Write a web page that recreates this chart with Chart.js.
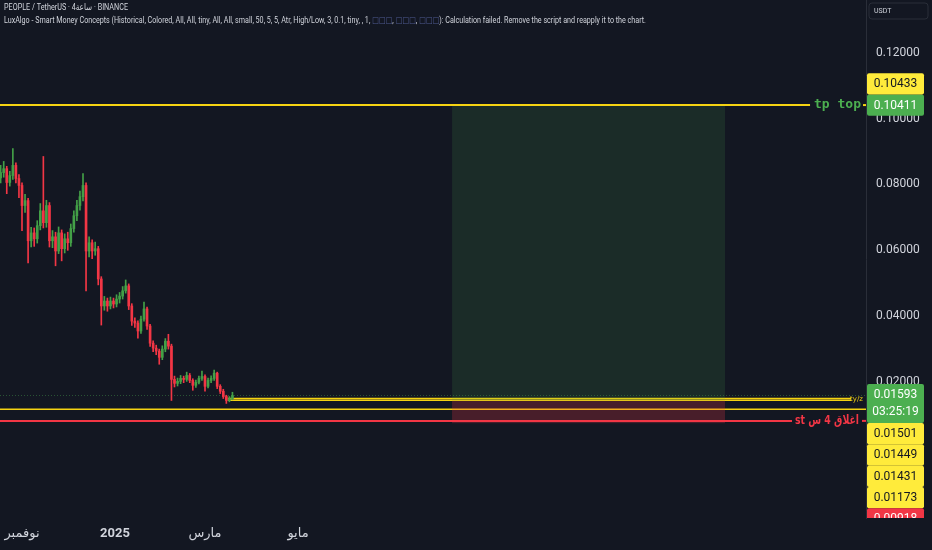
<!DOCTYPE html>
<html>
<head>
<meta charset="utf-8">
<title>PEOPLE / TetherUS</title>
<script src="https://cdn.jsdelivr.net/npm/chart.js@4.4.1/dist/chart.umd.min.js"></script>
<style>
html, body { margin: 0; padding: 0; background: #131722; }
#wrap { width: 932px; height: 550px; }
</style>
</head>
<body>
<div id="wrap"><canvas id="chart" width="932" height="550"></canvas></div>
<script>
// candles (one every 2 days, day 0 = 1 Nov 2024)
const candleOpen = [0.0820,0.0836,0.0848,0.0806,0.0827,0.0858,0.0818,0.0797,0.0736,0.0751,
    0.0629,0.0653,0.0635,0.0675,0.0720,0.0684,0.0736,0.0629,0.0641,0.0598,
    0.0653,0.0605,0.0635,0.0623,0.0666,0.0705,0.0736,0.0763,0.0797,0.0598,
    0.0623,0.0598,0.0605,0.0513,0.0431,0.0446,0.0431,0.0446,0.0437,0.0452,
    0.0461,0.0477,0.0492,0.0431,0.0385,0.0379,0.0355,0.0391,0.0422,0.0370,
    0.0318,0.0303,0.0294,0.0275,0.0300,0.0324,0.0309,0.0208,0.0196,0.0202,
    0.0211,0.0208,0.0220,0.0205,0.0190,0.0199,0.0211,0.0217,0.0187,0.0205,
    0.0211,0.0227,0.0187,0.0172,0.0156,0.0144,0.0150];
const candleHigh = [0.0858,0.0870,0.0855,0.0840,0.0909,0.0866,0.0830,0.0805,0.0770,0.0758,
    0.0670,0.0668,0.0690,0.0742,0.0885,0.0752,0.0745,0.0660,0.0655,0.0671,
    0.0662,0.0650,0.0655,0.0680,0.0720,0.0752,0.0780,0.0833,0.0805,0.0641,
    0.0632,0.0625,0.0612,0.0520,0.0460,0.0455,0.0458,0.0455,0.0465,0.0472,
    0.0490,0.0510,0.0498,0.0438,0.0395,0.0386,0.0400,0.0443,0.0428,0.0375,
    0.0325,0.0312,0.0300,0.0310,0.0332,0.0345,0.0315,0.0218,0.0212,0.0220,
    0.0218,0.0230,0.0226,0.0210,0.0206,0.0218,0.0233,0.0222,0.0212,0.0219,
    0.0236,0.0230,0.0192,0.0178,0.0160,0.0156,0.0169];
const candleLow = [0.0805,0.0822,0.0772,0.0795,0.0815,0.0805,0.0760,0.0660,0.0715,0.0562,
    0.0610,0.0612,0.0622,0.0662,0.0668,0.0670,0.0610,0.0608,0.0553,0.0590,
    0.0568,0.0592,0.0600,0.0612,0.0655,0.0690,0.0722,0.0750,0.0477,0.0580,
    0.0575,0.0585,0.0495,0.0373,0.0418,0.0415,0.0422,0.0425,0.0428,0.0440,
    0.0452,0.0470,0.0420,0.0372,0.0366,0.0333,0.0348,0.0385,0.0360,0.0308,
    0.0292,0.0283,0.0254,0.0268,0.0292,0.0300,0.0144,0.0185,0.0188,0.0195,
    0.0198,0.0202,0.0198,0.0175,0.0184,0.0194,0.0205,0.0172,0.0182,0.0198,
    0.0205,0.0180,0.0165,0.0150,0.0135,0.0140,0.0146];
const candleClose = [0.0836,0.0848,0.0806,0.0827,0.0858,0.0818,0.0797,0.0736,0.0751,0.0629,
    0.0653,0.0635,0.0675,0.0720,0.0684,0.0736,0.0629,0.0641,0.0598,0.0653,
    0.0605,0.0635,0.0623,0.0666,0.0705,0.0736,0.0763,0.0797,0.0598,0.0623,
    0.0598,0.0605,0.0513,0.0431,0.0446,0.0431,0.0446,0.0437,0.0452,0.0461,
    0.0477,0.0492,0.0431,0.0385,0.0379,0.0355,0.0391,0.0422,0.0370,0.0318,
    0.0303,0.0294,0.0275,0.0300,0.0324,0.0309,0.0208,0.0196,0.0202,0.0211,
    0.0208,0.0220,0.0205,0.0190,0.0199,0.0211,0.0217,0.0187,0.0205,0.0211,
    0.0227,0.0187,0.0172,0.0156,0.0144,0.0150,0.0159];
const candleStartDay = -14;
const candleStepDays = 2;

// axes
const monthTickDays = [0, 61, 120, 181];
const monthTickLabels = ['نوفمبر', '2025', 'مارس', 'مايو'];
const priceTicks = [0.02, 0.04, 0.06, 0.08, 0.10, 0.12];

// drawn levels
const tpLevel = 0.10411;
const currentPrice = 0.01593;
const entryLines = [0.01501, 0.01449];
const entryLinesStartDay = 135;
const yellowLevel = 0.01173;
const stopLevel = 0.0082;
const positionDays = [282, 461];
const positionLevels = [0.10411, 0.01431, 0.0075]; // target, entry, stop

// right-hand price labels
const topLabelValues = [0.10433, 0.10411];
const bottomLabelValues = [0.01593, 0.01501, 0.01449, 0.01431, 0.01173, 0.00918];
const countdownText = '03:25:19';

const GREEN = '#4caf50';
const RED = '#f23645';
const YELLOW = '#f5d312';
const TEXT = '#d1d4dc';
const FONT = 'Roboto, "DejaVu Sans", sans-serif';

const candleDays = candleClose.map((c, i) => candleStartDay + i * candleStepDays);
const wickData = candleDays.map((d, i) => ({ x: d, y: [candleLow[i], candleHigh[i]] }));
const bodyData = candleDays.map((d, i) => ({
    x: d,
    y: [Math.min(candleOpen[i], candleClose[i]), Math.max(candleOpen[i], candleClose[i])]
}));
function candleColor(i) {
    return candleClose[i] >= candleOpen[i] ? '#43a047' : RED;
}

function hLine(ctx, y, x1, x2, color, width, dash) {
    ctx.beginPath();
    ctx.setLineDash(dash || []);
    ctx.strokeStyle = color;
    ctx.lineWidth = width;
    ctx.moveTo(x1, y);
    ctx.lineTo(x2, y);
    ctx.stroke();
    ctx.setLineDash([]);
}

const overlay = {
    id: 'overlay',
    beforeDatasetsDraw(chart) {
        const { ctx, chartArea: a, scales: { x, y } } = chart;
        ctx.save();
        ctx.beginPath();
        ctx.rect(a.left, a.top, a.right - a.left, a.bottom - a.top);
        ctx.clip();

        // current price line
        hLine(ctx, Math.round(y.getPixelForValue(currentPrice)) + 0.5, a.left, a.right, 'rgba(76,175,80,0.4)', 1, [1, 2]);
        // yellow levels
        hLine(ctx, y.getPixelForValue(yellowLevel), a.left, a.right, YELLOW, 1.6);
        entryLines.forEach(v => {
            hLine(ctx, y.getPixelForValue(v), x.getPixelForValue(entryLinesStartDay), a.right - 15, YELLOW, 1.4);
        });
        // stop line with label
        ctx.font = 'bold 13px "DejaVu Sans", sans-serif';
        const stText = 'st اغلاق 4 س';
        const stW = Math.min(ctx.measureText(stText).width, 64);
        const stY = y.getPixelForValue(stopLevel);
        hLine(ctx, stY, a.left, a.right - 7 - stW - 3, RED, 2);
        hLine(ctx, stY, a.right - 4, a.right, RED, 2);
        ctx.fillStyle = RED;
        ctx.textAlign = 'right';
        ctx.textBaseline = 'middle';
        ctx.fillText(stText, a.right - 7, stY, 64);

        // long position box
        const bx1 = x.getPixelForValue(positionDays[0]);
        const bx2 = x.getPixelForValue(positionDays[1]);
        const tY = y.getPixelForValue(positionLevels[0]);
        const eY = y.getPixelForValue(positionLevels[1]);
        const sY = y.getPixelForValue(positionLevels[2]);
        ctx.fillStyle = 'rgba(76,175,80,0.14)';
        ctx.fillRect(bx1, tY, bx2 - bx1, eY - tY);
        ctx.fillStyle = 'rgba(242,54,69,0.24)';
        ctx.fillRect(bx1, eY, bx2 - bx1, sY - eY);

        // tp line with label
        ctx.font = 'bold 13px "DejaVu Sans Mono", monospace';
        const tpText = 'tp top';
        const tpW = ctx.measureText(tpText).width;
        const tpY = y.getPixelForValue(tpLevel);
        hLine(ctx, tpY, a.left, a.right - 5 - tpW - 4, YELLOW, 2);
        hLine(ctx, tpY, a.right - 3, a.right, YELLOW, 2);
        ctx.fillStyle = GREEN;
        ctx.fillText(tpText, a.right - 5, tpY);

        // tiny tag on entry lines
        ctx.font = '7px "DejaVu Sans", sans-serif';
        ctx.fillStyle = YELLOW;
        ctx.fillText('ty/z', a.right - 3, y.getPixelForValue(entryLines[0]) + 1);
        ctx.restore();
    },
    afterDraw(chart) {
        const { ctx, chartArea: a, scales: { y } } = chart;
        ctx.save();

        // header lines
        ctx.textAlign = 'left';
        ctx.textBaseline = 'middle';
        ctx.font = '9px ' + FONT;
        const head = [['PEOPLE / TetherUS · 4ساعة · BINANCE', TEXT]];
        drawFitted(ctx, head, 4, 8, 124);
        const sq = '□□□';
        const blue = '#4f5b93';
        const line2 = [
            ['LuxAlgo - Smart Money Concepts (Historical, Colored, All, All, tiny, All, All, small, 50, 5, 5, Atr, High/Low, 3, 0.1, tiny, , 1, ', TEXT],
            [sq, blue], [', ', TEXT], [sq, blue], [', ', TEXT], [sq, blue],
            ['): Calculation failed. Remove the script and reapply it to the chart.', TEXT]
        ];
        drawFitted(ctx, line2, 4, 21, 642);

        // USDT box
        roundRect(ctx, 869, 3, 59, 16, 3);
        ctx.fillStyle = '#131722';
        ctx.fill();
        ctx.strokeStyle = '#2a2e39';
        ctx.lineWidth = 1;
        ctx.stroke();
        ctx.fillStyle = TEXT;
        ctx.font = '7px ' + FONT;
        ctx.fillText('USDT', 874, 11);

        // price scale labels
        ctx.beginPath();
        ctx.rect(a.right, 0, 932 - a.right, a.bottom);
        ctx.clip();
        const lx = a.right + 1;
        const lw = 57;
        const rowH = 21.3;
        ctx.font = '12px ' + FONT;
        ctx.textAlign = 'center';

        // top group: anchor is the last label, others stack above
        const topStyles = ['#ffeb3b', GREEN];
        const anchorTop = y.getPixelForValue(topLabelValues[1]) - rowH / 2;
        for (let i = topLabelValues.length - 1; i >= 0; i--) {
            const t = anchorTop - (topLabelValues.length - 1 - i) * rowH;
            priceLabel(ctx, lx, t, lw, rowH, topLabelValues[i].toFixed(5), topStyles[i]);
        }

        // bottom group: current price first (two rows), others stack below
        const bottomStyles = [GREEN, '#ffeb3b', '#ffeb3b', '#ffeb3b', '#ffeb3b', RED];
        let t = y.getPixelForValue(bottomLabelValues[0]) - 11.4;
        const curH = 39;
        roundRect(ctx, lx, t, lw, curH, 2);
        ctx.fillStyle = GREEN;
        ctx.fill();
        ctx.fillStyle = '#ffffff';
        ctx.fillText(bottomLabelValues[0].toFixed(5), lx + lw / 2, t + 11.4);
        ctx.fillText(countdownText, lx + lw / 2, t + 28);
        t += curH;
        for (let i = 1; i < bottomLabelValues.length; i++) {
            priceLabel(ctx, lx, t, lw, rowH, bottomLabelValues[i].toFixed(5), bottomStyles[i]);
            t += rowH;
        }
        ctx.restore();
    }
};

function priceLabel(ctx, x, top, w, h, text, bg) {
    roundRect(ctx, x, top, w, h, 2);
    ctx.fillStyle = bg;
    ctx.fill();
    ctx.fillStyle = bg === '#ffeb3b' ? '#131722' : '#ffffff';
    ctx.fillText(text, x + w / 2, top + h / 2 + 0.5);
}

function roundRect(ctx, x, y, w, h, r) {
    ctx.beginPath();
    ctx.moveTo(x + r, y);
    ctx.lineTo(x + w - r, y);
    ctx.quadraticCurveTo(x + w, y, x + w, y + r);
    ctx.lineTo(x + w, y + h - r);
    ctx.quadraticCurveTo(x + w, y + h, x + w - r, y + h);
    ctx.lineTo(x + r, y + h);
    ctx.quadraticCurveTo(x, y + h, x, y + h - r);
    ctx.lineTo(x, y + r);
    ctx.quadraticCurveTo(x, y, x + r, y);
    ctx.closePath();
}

// draws coloured text pieces squeezed to a target width
function drawFitted(ctx, parts, x, y, width) {
    const total = parts.reduce((s, p) => s + ctx.measureText(p[0]).width, 0);
    const k = Math.min(1, width / total);
    ctx.save();
    ctx.translate(x, y);
    ctx.scale(k, 1);
    let cx = 0;
    parts.forEach(p => {
        ctx.fillStyle = p[1];
        ctx.fillText(p[0], cx, 0);
        cx += ctx.measureText(p[0]).width;
    });
    ctx.restore();
}

// no edge padding from the scales, the plot fills the canvas
function noPadding(s) {
    s.paddingTop = 0;
    s.paddingBottom = 0;
    s.paddingLeft = 0;
    s.paddingRight = 0;
}

const ctx = document.getElementById('chart').getContext('2d');
const config = {
    type: 'bar',
    data: {
        datasets: [{
            label: 'wicks',
            data: wickData,
            barThickness: 1,
            grouped: false,
            backgroundColor: c => candleColor(c.dataIndex),
            order: 2
        }, {
            label: 'bodies',
            data: bodyData,
            barThickness: 2,
            minBarLength: 1,
            grouped: false,
            backgroundColor: c => candleColor(c.dataIndex),
            order: 1
        }]
    },
    options: {
        responsive: false,
        animation: false,
        layout: { padding: 0 },
        plugins: { legend: { display: false }, tooltip: { enabled: false } },
        scales: {
            x: {
                type: 'linear',
                min: -22 / 1.525,
                max: (866 - 22) / 1.525,
                offset: false,
                grid: { display: false, drawTicks: false },
                border: { display: false },
                afterBuildTicks: axis => { axis.ticks = monthTickDays.map(v => ({ value: v })); },
                afterFit: s => { s.height = 32; noPadding(s); },
                ticks: {
                    autoSkip: false,
                    maxRotation: 0,
                    padding: 8,
                    color: TEXT,
                    font: c => ({ family: FONT, size: 13, weight: c.index === 1 ? 'bold' : 'normal' }),
                    callback: (v, i) => monthTickLabels[i]
                }
            },
            y: {
                position: 'right',
                min: -0.02129,
                max: 0.13602,
                grid: { display: false, drawTicks: false },
                border: { display: true, color: '#2a2e39' },
                afterBuildTicks: axis => { axis.ticks = priceTicks.map(v => ({ value: v })); },
                afterFit: s => { s.width = 66; noPadding(s); },
                ticks: {
                    padding: 10,
                    color: TEXT,
                    font: { family: FONT, size: 12 },
                    callback: v => v.toFixed(5)
                }
            }
        }
    },
    plugins: [overlay]
};

var myChart = new Chart(ctx, config);
</script>
</body>
</html>
